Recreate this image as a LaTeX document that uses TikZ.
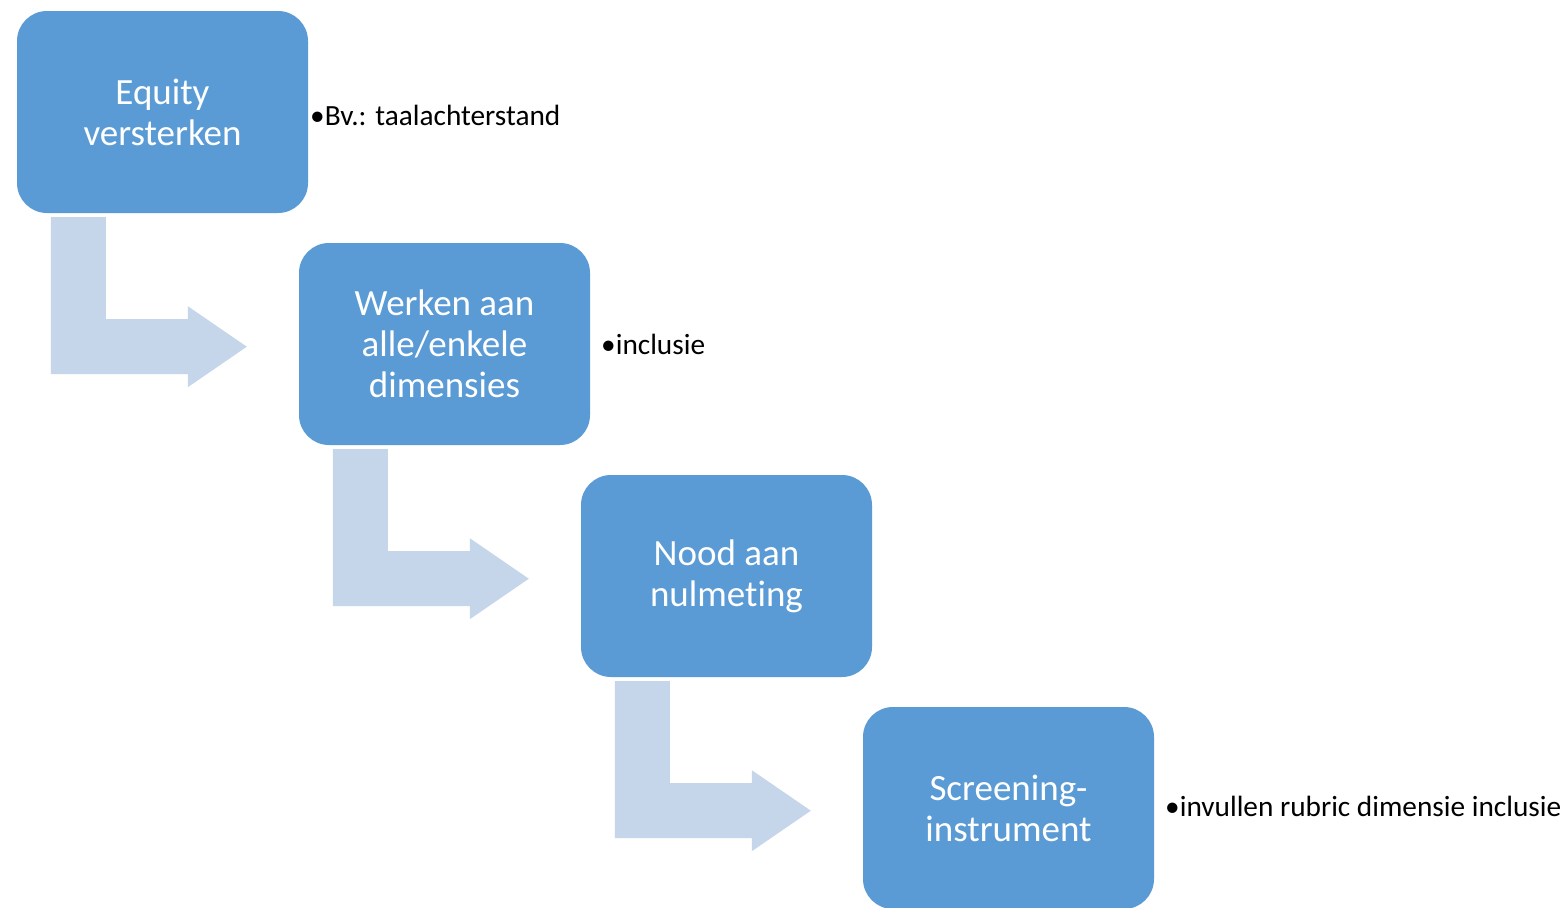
\documentclass[tikz,border=0pt]{standalone}
\usepackage{fontspec}
\setmainfont{Carlito}[Ligatures=CommonOff]
\definecolor{boxblue}{HTML}{5B9BD5}
\definecolor{arrowblue}{HTML}{C5D5EA}
\begin{document}
\begin{tikzpicture}[x=1pt,y=-1pt,
  stepbox/.style={fill=boxblue, draw=none, rounded corners=30pt, minimum width=291pt, minimum height=202pt,
    text=white, align=center, font=\fontsize{37}{41}\selectfont, inner sep=0pt},
  sidelabel/.style={anchor=west, inner sep=0pt, font=\fontsize{29.3}{34}\selectfont, text=black},
  bentarrow/.style={fill=arrowblue, draw=none}]
\useasboundingbox (0,0) rectangle (1567,908);
\fill[white] (0,0) rectangle (1567,908);
\node[stepbox] (b1) at (162.5,112) {Equity\\versterken};
\node[stepbox] (b2) at (444.5,344) {Werken aan\\alle/enkele\\dimensies};
\node[stepbox] (b3) at (726.5,576) {Nood aan\\nulmeting};
\node[stepbox] (b4) at (1008.5,808) {Screening-\\instrument};
\foreach \b in {b1,b2,b3}{
  \begin{scope}[shift={(\b.south west)}]
    \fill[bentarrow] (34,4) -- (89,4) -- (89,106) -- (171,106) -- (171,93) -- (230,133.5) -- (171,174) -- (171,161) -- (34,161) -- cycle;
  \end{scope}
}
\node[sidelabel] (l1) at (310,115) {•Bv.: taalachterstand};
\node[sidelabel] (l2) at (601,344) {•inclusie};
\node[sidelabel] (l4) at (1165,806) {•invullen rubric dimensie inclusie};
\end{tikzpicture}
\end{document}
